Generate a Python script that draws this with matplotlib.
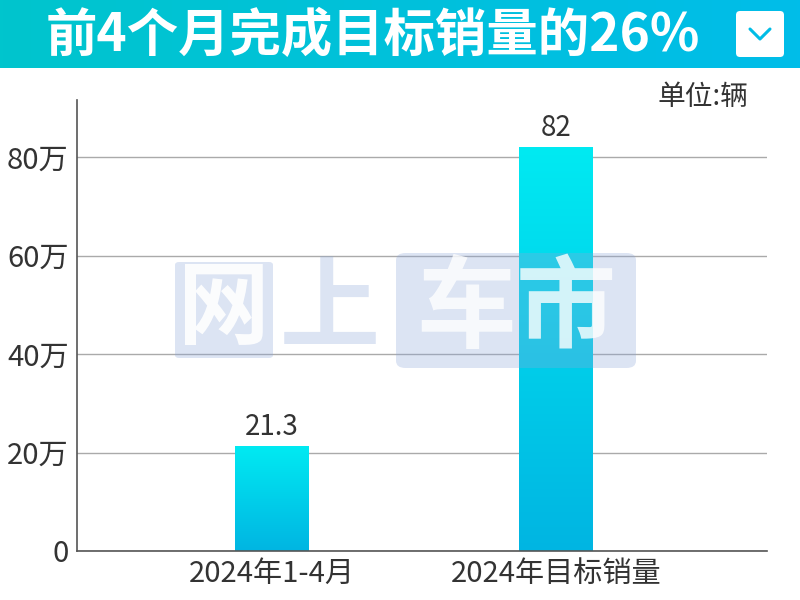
import numpy as np
import matplotlib
matplotlib.use('Agg')
import matplotlib.pyplot as plt
from matplotlib.patches import FancyBboxPatch
from matplotlib.colors import LinearSegmentedColormap

plt.rcParams['font.family'] = ['Noto Sans CJK SC', 'DejaVu Sans']

# data
categories = ['2024年1-4月', '2024年目标销量']
values = [21.3, 82]
value_labels = ['21.3', '82']
yticks = [0, 20, 40, 60, 80]
ytick_labels = ['0', '20万', '40万', '60万', '80万']
title = '前4个月完成目标销量的26%'
unit = '单位:辆'

W, H = 800, 600
fig = plt.figure(figsize=(8, 6), dpi=100)

# header band
hdr = fig.add_axes([0, 1 - 68 / H, 1, 68 / H])
hdr.axis('off')
hcmap = LinearSegmentedColormap.from_list('h', ['#00c5cd', '#00bde9'])
hdr.imshow(np.linspace(0, 1, 256).reshape(1, -1), cmap=hcmap, aspect='auto',
           extent=[0, W, 0, 68])
hdr.set_xlim(0, W)
hdr.set_ylim(0, 68)
hdr.text(373, 33, title, color='white', fontsize=37, fontweight='heavy',
         ha='center', va='center')
hdr.add_patch(FancyBboxPatch((736, 11), 48, 46, boxstyle='round,pad=0,rounding_size=4',
                             fc='white', ec='none'))
hdr.plot([750, 760, 770], [39, 29, 39], color='#00bde6', lw=2.2,
         solid_capstyle='round')

# main axes
ax = fig.add_axes([77 / W, 1 - 551 / H, 690 / W, 451 / H])
x = np.arange(len(categories))
bw = 0.26
bcmap = LinearSegmentedColormap.from_list('b', ['#00b5e2', '#00eaf2'])
bars = ax.bar(x, values, width=bw, color='none', zorder=2)
for b in bars:
    x0 = b.get_x()
    w, h = b.get_width(), b.get_height()
    ax.imshow(np.linspace(0, 1, 256).reshape(-1, 1), cmap=bcmap, origin='lower',
              aspect='auto', extent=[x0, x0 + w, 0, h], zorder=2)
ax.set_aspect('auto')
ax.set_xlim(-0.687, 1.743)
ax.set_ylim(0, 91.6)
for xi, v, lab in zip(x, values, value_labels):
    ax.text(xi, v + 0.8, lab, ha='center', va='bottom', fontsize=20,
            fontweight='light', color='#333333')

ax.set_yticks(yticks)
ax.set_yticklabels(ytick_labels)
ax.set_xticks(x)
ax.set_xticklabels(categories)
ax.tick_params(length=0, labelsize=21, colors='#333333', pad=6)
for t in ax.get_xticklabels() + ax.get_yticklabels():
    t.set_fontweight('light')
ax.grid(axis='y', color='#aaaaaa', lw=1)
ax.set_axisbelow(True)
for s in ['top', 'right']:
    ax.spines[s].set_visible(False)
for s in ['left', 'bottom']:
    ax.spines[s].set_color('#555555')
    ax.spines[s].set_linewidth(1.2)

fig.text(748 / W, 1 - 97 / H, unit, ha='right', va='center', fontsize=20,
         fontweight='light', color='#333333')

# watermark
wm = (0.55, 0.65, 0.85)
def fx(px):
    return px / W
def fy(py):
    return 1 - py / H
fig.patches.append(FancyBboxPatch((fx(175), fy(358)), fx(98), 96 / H,
                                  boxstyle='round,pad=0,rounding_size=0.005',
                                  transform=fig.transFigure, fc=wm, ec='none',
                                  alpha=0.3, zorder=5))
fig.patches.append(FancyBboxPatch((fx(396), fy(368)), fx(240), 115 / H,
                                  boxstyle='round,pad=0,rounding_size=0.012',
                                  transform=fig.transFigure, fc=wm, ec='none',
                                  alpha=0.3, zorder=5))
fig.text(fx(224), fy(310), '网', fontsize=66, fontweight='heavy', color='white',
         alpha=0.9, ha='center', va='center', zorder=6)
fig.text(fx(330), fy(310), '上', fontsize=72, fontweight='heavy', color=wm,
         alpha=0.3, ha='center', va='center', zorder=6)
fig.text(fx(516), fy(310), '车市', fontsize=72, fontweight='heavy', color='white',
         alpha=0.8, ha='center', va='center', zorder=6)

fig.savefig('out.png', dpi=100)
